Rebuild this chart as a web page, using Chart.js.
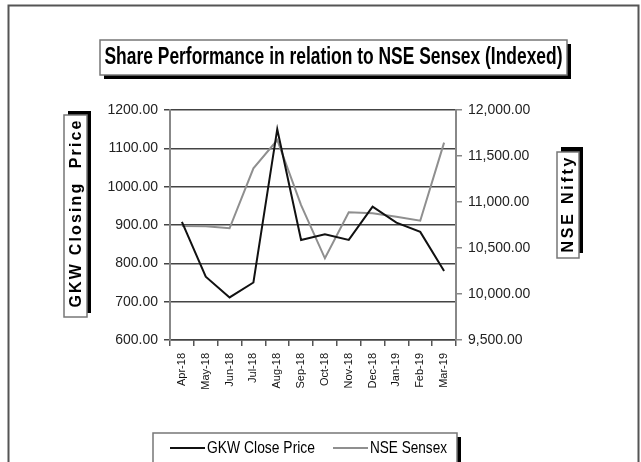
<!DOCTYPE html>
<html>
<head>
<meta charset="utf-8">
<script src="https://cdn.jsdelivr.net/npm/chart.js@4"></script>
<style>
  body { margin: 0; background: #fff; }
</style>
</head>
<body>
<canvas id="myChart" width="641" height="462"></canvas>
<script>
const months = ["Apr-18", "May-18", "Jun-18", "Jul-18", "Aug-18", "Sep-18", "Oct-18", "Nov-18", "Dec-18", "Jan-19", "Feb-19", "Mar-19"];
const gkwClose = [908, 765, 711, 750, 1150, 861, 876, 861, 948, 906, 882, 780];
const nseSensex = [10739, 10736, 10714, 11366, 11674, 10967, 10388, 10888, 10877, 10840, 10797, 11645];

const sans = '"Liberation Sans", Arial, sans-serif';

// box with a black drop shadow
function shadowBox(ctx, x, y, w, h, dx, dy) {
  ctx.fillStyle = "#000";
  ctx.fillRect(x + dx, y + dy, w, h);
  ctx.fillStyle = "#fff";
  ctx.fillRect(x, y, w, h);
  ctx.strokeStyle = "#777";
  ctx.lineWidth = 1.5;
  ctx.strokeRect(x, y, w, h);
}

// text squeezed to a given width (narrow look)
function fitText(ctx, text, x, y, width, font, align) {
  ctx.save();
  ctx.font = font;
  const w0 = ctx.measureText(text).width;
  ctx.translate(x, y);
  ctx.scale(width / w0, 1);
  ctx.fillStyle = "#000";
  ctx.textAlign = align || "center";
  ctx.textBaseline = "middle";
  ctx.fillText(text, 0, 0);
  ctx.restore();
}

// text spread out with letter spacing, rotated
function spacedText(ctx, text, cx, cy, width, font, rot) {
  ctx.save();
  ctx.font = font;
  const w0 = ctx.measureText(text).width;
  const gap = (width - w0) / (text.length - 1);
  ctx.letterSpacing = gap + "px";
  ctx.translate(cx, cy);
  ctx.rotate(rot);
  ctx.fillStyle = "#000";
  ctx.textAlign = "left";
  ctx.textBaseline = "middle";
  ctx.fillText(text, -width / 2, 0);
  ctx.restore();
}

const decorations = {
  id: "decorations",
  beforeDraw(chart) {
    const ctx = chart.ctx;
    ctx.save();
    // outer frame
    ctx.strokeStyle = "#555";
    ctx.lineWidth = 2;
    ctx.beginPath();
    ctx.moveTo(8.5, 470);
    ctx.lineTo(8.5, 5.5);
    ctx.lineTo(638.5, 5.5);
    ctx.lineTo(638.5, 470);
    ctx.stroke();
    ctx.restore();
  },
  afterDraw(chart) {
    const ctx = chart.ctx;
    ctx.save();
    // title
    shadowBox(ctx, 100, 40, 467, 35, 4, 4);
    fitText(ctx, "Share Performance in relation to NSE Sensex (Indexed)", 333.5, 58, 458, "bold 23px " + sans);

    // axis titles
    shadowBox(ctx, 64, 115, 23, 202, 4, -4);
    spacedText(ctx, "GKW Closing  Price", 76.5, 214, 187, "bold 16px " + sans, -Math.PI / 2);
    shadowBox(ctx, 557, 152, 22, 106, 4, -5);
    spacedText(ctx, "NSE Nifty", 569, 205, 95, "bold 16px " + sans, -Math.PI / 2);

    // legend
    shadowBox(ctx, 153, 433, 304, 45, 4, 4);
    const items = chart.data.datasets;
    const xs = [170, 333];
    const widths = [108, 77];
    items.forEach((ds, i) => {
      ctx.strokeStyle = ds.borderColor;
      ctx.lineWidth = 2;
      ctx.beginPath();
      ctx.moveTo(xs[i], 448);
      ctx.lineTo(xs[i] + 35, 448);
      ctx.stroke();
      fitText(ctx, ds.label, xs[i] + 37, 448, widths[i], "17px " + sans, "left");
    });
    ctx.restore();
  }
};

let chartEl = document.getElementById("myChart").getContext("2d");

let perfChart = new Chart(chartEl, {
  type: "line",
  data: {
    labels: months,
    datasets: [
      {
        label: "GKW Close Price",
        data: gkwClose,
        yAxisID: "y",
        borderColor: "#111",
        borderWidth: 2,
        pointRadius: 0,
        tension: 0,
      },
      {
        label: "NSE Sensex",
        data: nseSensex,
        yAxisID: "y1",
        borderColor: "#8f8f8f",
        borderWidth: 2,
        pointRadius: 0,
        tension: 0,
      },
    ],
  },
  options: {
    responsive: false,
    animation: false,
    layout: { padding: { top: 110, left: 0, right: 0, bottom: 0 } },
    plugins: {
      legend: { display: false },
      title: { display: false },
      tooltip: { enabled: false },
    },
    scales: {
      x: {
        offset: true,
        afterFit: (s) => { s.height = 122; },
        grid: { offset: true, drawOnChartArea: false, tickLength: 6, color: "#555", lineWidth: 1.5 },
        border: { color: "#444", width: 1.5 },
        ticks: {
          minRotation: 90,
          maxRotation: 90,
          padding: 7,
          color: "#111",
          font: { family: sans, size: 11 },
        },
      },
      y: {
        position: "left",
        min: 600,
        max: 1200,
        afterFit: (s) => { s.width = 170; },
        grid: { color: "#444", lineWidth: 1.5, tickLength: 6 },
        border: { color: "#888", width: 2 },
        ticks: {
          stepSize: 100,
          padding: 6,
          color: "#222",
          font: { family: sans, size: 14 },
          callback: (v) => v.toFixed(2),
        },
      },
      y1: {
        position: "right",
        min: 9500,
        max: 12000,
        afterFit: (s) => { s.width = 185; },
        grid: { drawOnChartArea: false, color: "#888", lineWidth: 1.5, tickLength: 6 },
        border: { color: "#888", width: 2 },
        ticks: {
          stepSize: 500,
          padding: 6,
          color: "#222",
          font: { family: sans, size: 14 },
          callback: (v) => v.toLocaleString("en-US", { minimumFractionDigits: 2, maximumFractionDigits: 2 }),
        },
      },
    },
  },
  plugins: [decorations],
});
</script>
</body>
</html>
